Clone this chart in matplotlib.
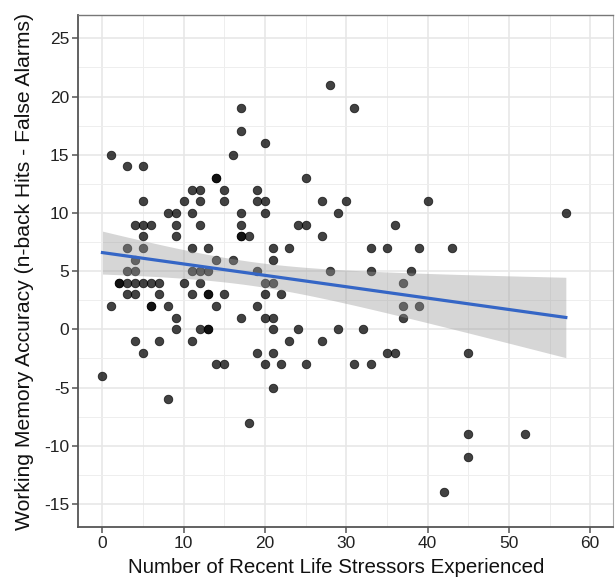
import numpy as np
import matplotlib
matplotlib.use("Agg")
import matplotlib.pyplot as plt
from matplotlib.ticker import MultipleLocator

stressors = [
    28, 17, 31, 17, 20, 1, 16, 3, 5, 14, 14, 25,
    11, 12, 15, 19,
    5, 10, 12, 15, 19, 20, 27, 30, 40,
    8, 9, 11, 17, 20, 29, 57,
    4, 5, 6, 9, 12, 17, 24, 25, 36,
    5, 9, 17, 17, 18, 27,
    3, 5, 11, 13, 21, 23, 33, 35, 39, 43,
    4, 14, 16, 21,
    3, 4, 11, 12, 13, 19, 28, 33, 38,
    37, 2, 2, 3, 4, 5, 6, 7, 10, 12, 20, 21,
    3, 4, 7, 11, 13, 13, 15, 20, 22,
    1, 6, 6, 8, 14, 19, 37, 39,
    9, 17, 20, 21, 37,
    9, 12, 13, 13, 21, 24, 29, 32,
    4, 7, 11, 23, 27,
    5, 19, 21, 35, 36, 45,
    14, 15, 20, 22, 25, 31, 33,
    0, 21, 8, 18, 45, 52, 45, 42,
]
accuracy = [
    21, 19, 19, 17, 16, 15, 15, 14, 14, 13, 13, 13,
    12, 12, 12, 12,
    11, 11, 11, 11, 11, 11, 11, 11, 11,
    10, 10, 10, 10, 10, 10, 10,
    9, 9, 9, 9, 9, 9, 9, 9, 9,
    8, 8, 8, 8, 8, 8,
    7, 7, 7, 7, 7, 7, 7, 7, 7, 7,
    6, 6, 6, 6,
    5, 5, 5, 5, 5, 5, 5, 5, 5,
    4, 4, 4, 4, 4, 4, 4, 4, 4, 4, 4, 4,
    3, 3, 3, 3, 3, 3, 3, 3, 3,
    2, 2, 2, 2, 2, 2, 2, 2,
    1, 1, 1, 1, 1,
    0, 0, 0, 0, 0, 0, 0, 0,
    -1, -1, -1, -1, -1,
    -2, -2, -2, -2, -2, -2,
    -3, -3, -3, -3, -3, -3, -3,
    -4, -5, -6, -8, -9, -9, -11, -14,
]

x_ticks = [0, 10, 20, 30, 40, 50, 60]
y_ticks = [-15, -10, -5, 0, 5, 10, 15, 20, 25]
x_label = "Number of Recent Life Stressors Experienced"
y_label = "Working Memory Accuracy (n-back Hits - False Alarms)"

plt.rcParams['font.family'] = ['Liberation Sans', 'DejaVu Sans']
plt.rcParams['axes.unicode_minus'] = False

x = np.array(stressors, dtype=float)
y = np.array(accuracy, dtype=float)
n = len(x)
slope, intercept = np.polyfit(x, y, 1)
xs = np.linspace(x.min(), x.max(), 80)
ys = intercept + slope * xs
resid = y - (intercept + slope * x)
s = np.sqrt(np.sum(resid ** 2) / (n - 2))
sxx = np.sum((x - x.mean()) ** 2)
se = s * np.sqrt(1.0 / n + (xs - x.mean()) ** 2 / sxx)
tval = 1.977
lo, hi = ys - tval * se, ys + tval * se

fig = plt.figure(figsize=(6.15, 5.78), dpi=100)
ax = fig.add_axes([0.1263, 0.0877, 0.8704, 0.8863])
ax.set_facecolor('white')

ax.scatter(x, y, s=38, c='black', alpha=0.74, edgecolors='black',
           linewidths=0.6, zorder=3)
ax.fill_between(xs, lo, hi, color='#999999', alpha=0.4, linewidth=0, zorder=4)
ax.plot(xs, ys, color='#3566c6', linewidth=2.3, zorder=5)

ax.set_xlim(-3.05, 62.8)
ax.set_ylim(-17, 27)
ax.set_xticks(x_ticks)
ax.set_yticks(y_ticks)
ax.xaxis.set_minor_locator(MultipleLocator(5))
ax.yaxis.set_minor_locator(MultipleLocator(2.5))
ax.grid(which='major', color='#e6e6e6', linewidth=1.1, zorder=0)
ax.grid(which='minor', color='#eeeeee', linewidth=0.7, zorder=0)
ax.set_axisbelow(True)

for side in ['left', 'bottom']:
    ax.spines[side].set_color('#555555')
    ax.spines[side].set_linewidth(1.3)
ax.spines['top'].set_color('#777777')
ax.spines['top'].set_linewidth(1.0)
ax.spines['right'].set_color('#aaaaaa')
ax.spines['right'].set_linewidth(0.8)

ax.tick_params(axis='both', which='major', length=4, width=1.1, color='#555555',
               labelsize=12.5, labelcolor='#222222', pad=2)
ax.tick_params(axis='both', which='minor', length=0)

ax.set_xlabel(x_label, fontsize=14.8, color='#111111')
ax.xaxis.set_label_coords(0.4825, -0.0885, transform=ax.transAxes)
ax.xaxis.label.set_verticalalignment('baseline')
ax.set_ylabel(y_label, fontsize=15.2, color='#111111', labelpad=7)

fig.savefig('out.png', dpi=100, facecolor='white')
